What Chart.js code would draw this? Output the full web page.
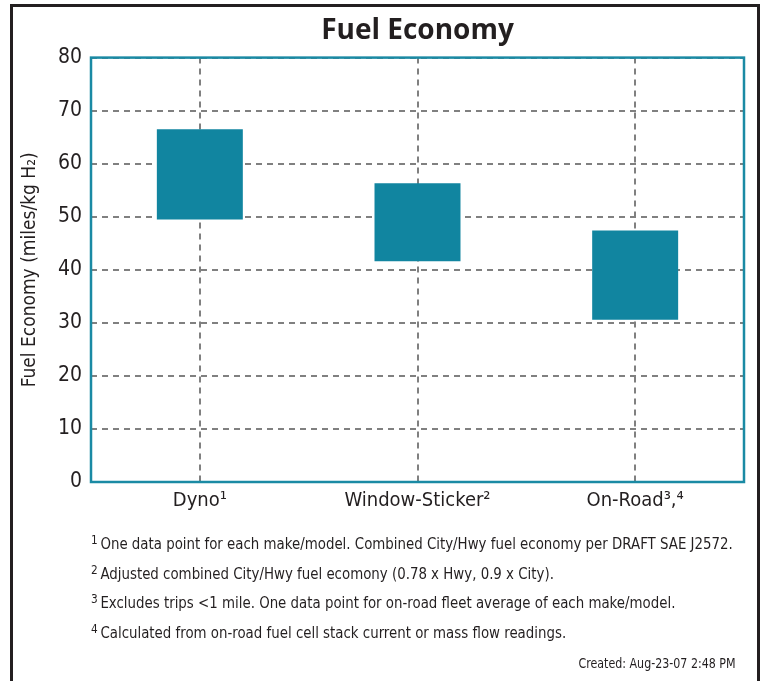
<!DOCTYPE html>
<html>
<head>
<meta charset="utf-8">
<script src="https://cdn.jsdelivr.net/npm/chart.js@4/dist/chart.umd.min.js"></script>
<style>
  body { margin: 0; background: #fff; }
  #wrap { position: relative; width: 764px; height: 681px; overflow: hidden; }
  #frame { position: absolute; left: 10px; top: 4px; width: 744px; height: 720px; border: 3px solid #231f20; }
  canvas { position: absolute; left: 0; top: 0; }
  .note { position: absolute; left: 91px; font: 16.5px 'Liberation Sans Narrow', 'DejaVu Sans Condensed', sans-serif; color: #231f20; white-space: nowrap; transform: scaleX(0.9); transform-origin: left center; }
  .note sup { font-size: 13px; vertical-align: 5px; margin-right: 3px; }
  #created { position: absolute; right: 28px; top: 655px; font: 14px 'Liberation Sans Narrow', 'DejaVu Sans Condensed', sans-serif; color: #231f20; white-space: nowrap; transform: scaleX(0.88); transform-origin: right center; }
</style>
</head>
<body>
<div id="wrap">
  <div id="frame"></div>
  <canvas id="chart" width="764" height="681"></canvas>
  <div class="note" style="top:532px"><sup>1</sup>One data point for each make/model. Combined City/Hwy fuel economy per DRAFT SAE J2572.</div>
  <div class="note" style="top:562px"><sup>2</sup>Adjusted combined City/Hwy fuel ecomony (0.78 x Hwy, 0.9 x City).</div>
  <div class="note" style="top:591px"><sup>3</sup>Excludes trips &lt;1 mile. One data point for on-road fleet average of each make/model.</div>
  <div class="note" style="top:621px"><sup>4</sup>Calculated from on-road fuel cell stack current or mass flow readings.</div>
  <div id="created">Created: Aug-23-07 2:48 PM</div>
</div>
<script>
// fuel economy ranges (miles/kg H2)
const categories = ['Dyno¹', 'Window-Sticker²', 'On-Road³,⁴'];
const lowValues = [49.5, 41.6, 30.6];
const highValues = [66.5, 56.3, 47.4];
const yTicks = [0, 10, 20, 30, 40, 50, 60, 70, 80];

const TEAL = '#1185a0';
const INK = '#231f20';
const NARROW = "'Liberation Sans Narrow', 'DejaVu Sans Condensed', sans-serif";

// teal box around the plot area
const plotFrame = {
  id: 'plotFrame',
  afterDraw(chart) {
    const a = chart.chartArea;
    const ctx = chart.ctx;
    ctx.save();
    ctx.strokeStyle = '#1a8aa4';
    ctx.lineWidth = 2.5;
    ctx.strokeRect(a.left, a.top, a.right - a.left, a.bottom - a.top);
    ctx.restore();
  }
};

new Chart(document.getElementById('chart'), {
  type: 'bar',
  data: {
    labels: categories,
    datasets: [{
      label: 'Fuel Economy',
      data: lowValues.map((lo, i) => [lo, highValues[i]]),
      backgroundColor: TEAL,
      borderWidth: 0,
      barPercentage: 0.395,
      categoryPercentage: 1
    }]
  },
  plugins: [plotFrame],
  options: {
    responsive: false,
    animation: false,
    layout: { padding: { left: 0, right: 20, top: 0, bottom: 159 } },
    plugins: {
      legend: { display: false },
      tooltip: { enabled: false },
      title: {
        display: true,
        text: 'Fuel Economy',
        fullSize: false,
        color: INK,
        font: { family: "'Open Sans', sans-serif", size: 28, weight: 'bold' },
        padding: { top: 14, bottom: 10 }
      }
    },
    scales: {
      x: {
        afterFit(scale) { scale.height = 40; },
        grid: { offset: false, drawTicks: false, color: '#808080', lineWidth: 2 },
        border: { display: false, dash: [6, 5] },
        ticks: { color: INK, padding: 7, font: { family: NARROW, size: 20 } }
      },
      y: {
        min: 0,
        max: 80,
        afterFit(scale) { scale.width = 91; },
        afterBuildTicks(scale) { scale.ticks = yTicks.map(v => ({ value: v })); },
        grid: { drawTicks: false, color: '#808080', lineWidth: 2 },
        border: { display: false, dash: [6, 5] },
        ticks: { color: INK, padding: 9, font: { family: NARROW, size: 21 } },
        title: {
          display: true,
          text: 'Fuel Economy (miles/kg H₂)',
          color: INK,
          font: { family: NARROW, size: 19 },
          padding: { top: 19, bottom: 0 }
        }
      }
    }
  }
});
</script>
</body>
</html>
